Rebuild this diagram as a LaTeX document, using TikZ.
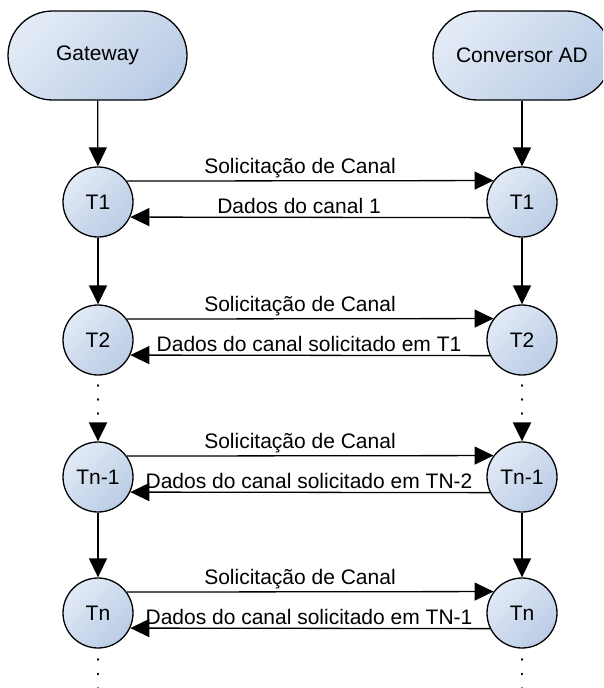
\documentclass[tikz,border=0pt]{standalone}
\usepackage{fontspec}
\setmainfont{Liberation Sans}
\usetikzlibrary{arrows.meta}
\definecolor{fillL}{RGB}{226,234,246}
\definecolor{fillR}{RGB}{186,204,229}
\begin{document}
\begin{tikzpicture}[x=1pt,y=-1pt,
  font=\fontsize{21}{25}\selectfont,
  endbox/.style={draw, line width=1.3pt, rectangle, rounded corners=44.5pt,
    minimum width=179pt, minimum height=89pt, inner sep=0pt,
    top color=fillL, bottom color=fillR, shading angle=45},
  state/.style={draw, line width=1.3pt, circle, minimum size=70pt, inner sep=0pt,
    top color=fillL, bottom color=fillR, shading angle=45},
  flow/.style={line width=1.3pt, -{Triangle[width=18pt,length=19pt]}},
  dotflow/.style={flow, line width=2.2pt, line cap=round, dash pattern=on 0.6pt off 13.4pt, dash phase=4.5pt},
  dotline/.style={line width=2.2pt, line cap=round, dash pattern=on 0.6pt off 13.9pt, dash phase=4pt},
  lbl/.style={anchor=base, inner sep=0pt}
]
\useasboundingbox (0,0) rectangle (603,688);
\clip (0,0) rectangle (603,688);

% end points of the exchange
\node[endbox] (gw) at (97.5,55.5) {Gateway};
\node[endbox, minimum width=178pt] (ad) at (522,55.5) {Conversor AD};

% time steps on both sides
\node[state] (g1) at (98,202) {T1};
\node[state] (g2) at (98,340) {T2};
\node[state] (g3) at (98,477) {Tn-1};
\node[state] (g4) at (98,613) {Tn};
\node[state] (a1) at (522,202) {T1};
\node[state] (a2) at (522,340) {T2};
\node[state] (a3) at (522,477) {Tn-1};
\node[state] (a4) at (522,613) {Tn};

\coordinate (gend) at (98,710);
\coordinate (aend) at (522,710);

% timelines
\draw[flow] (gw) -- (g1);
\draw[flow] (g1) -- (g2);
\draw[dotflow] (g2) -- (g3);
\draw[flow] (g3) -- (g4);
\draw[dotline] (g4.south) -- (gend);
\draw[flow] (ad) -- (a1);
\draw[flow] (a1) -- (a2);
\draw[dotflow] (a2) -- (a3);
\draw[flow] (a3) -- (a4);
\draw[dotline] (a4.south) -- (aend);

% requests and replies
\foreach \i/\ans/\cx/\row in {1/{Dados do canal 1}/299/202,
    2/{Dados do canal solicitado em T1}/309/340,
    3/{Dados do canal solicitado em TN-2}/309/477,
    4/{Dados do canal solicitado em TN-1}/309/613} {
  \draw[flow] (g\i.36.87) -- (a\i.143.13);
  \draw[flow] (a\i.-154.6) -- (g\i.-25.4);
  \node[lbl] (req\i) at (300,\row-29) {Solicitação de Canal};
  \node[lbl] (ans\i) at (\cx,\row+11) {\ans};
}
\end{tikzpicture}
\end{document}
